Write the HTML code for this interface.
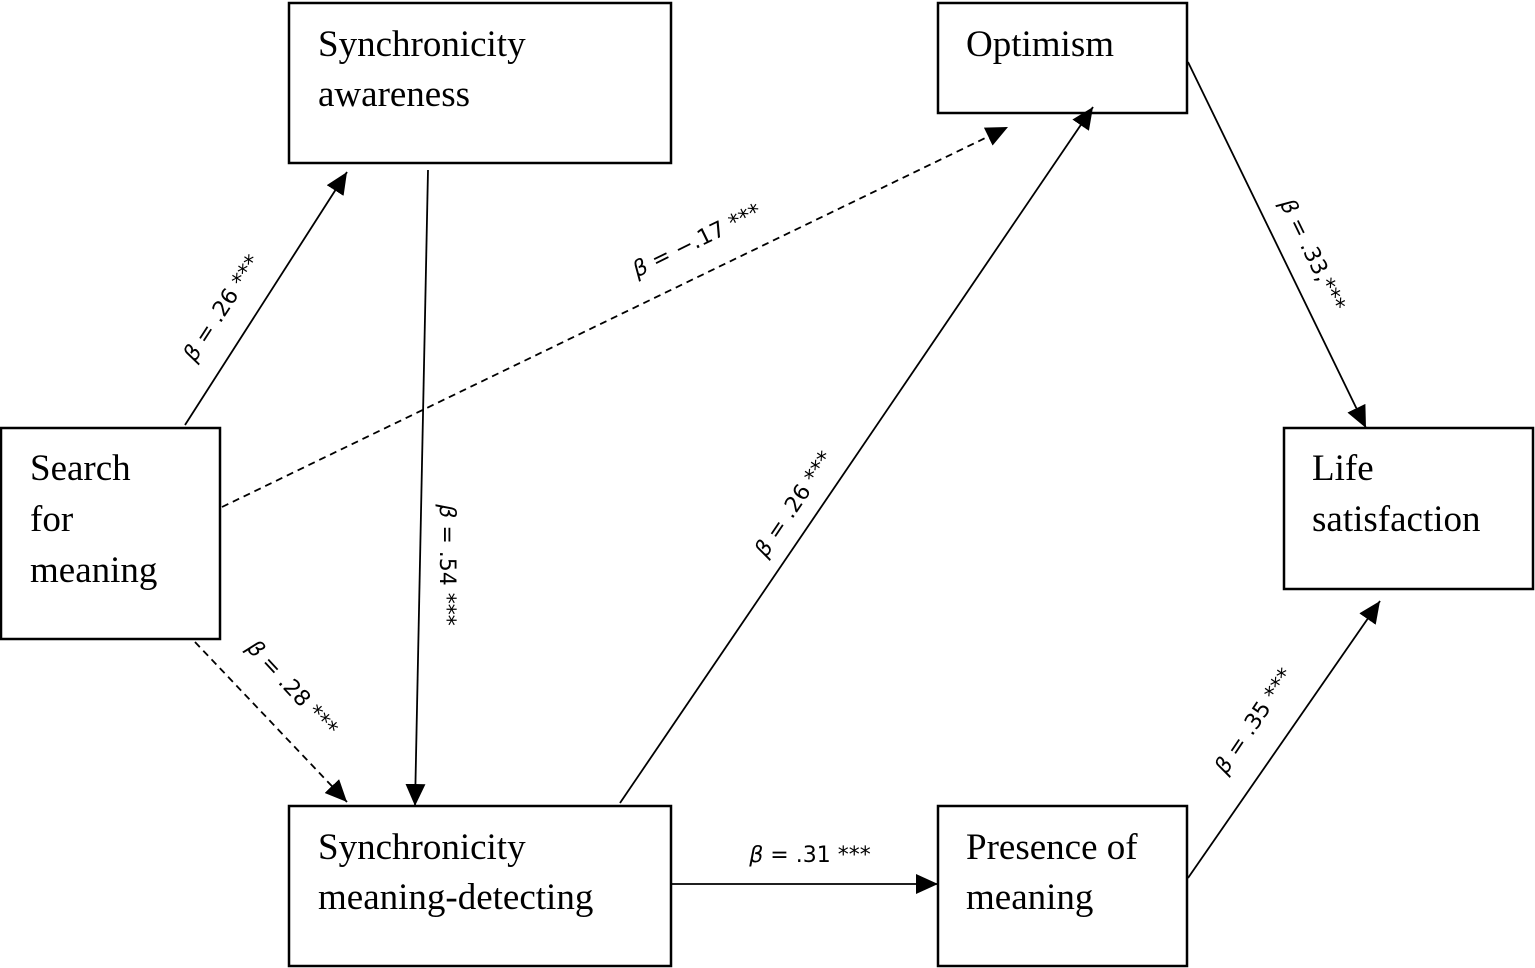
<!DOCTYPE html>
<html><head><meta charset="utf-8"><style>
html,body{margin:0;padding:0;background:#fff;}
svg{display:block}
.b{font-family:"Liberation Serif",serif;font-size:37px;fill:#000}
.l{font-family:"DejaVu Sans","Liberation Sans",sans-serif;font-size:22px;fill:#000}
</style></head><body>
<svg width="1535" height="968" viewBox="0 0 1535 968" xmlns="http://www.w3.org/2000/svg">
<defs><marker id="a" markerWidth="12" markerHeight="12" refX="11" refY="6" orient="auto" markerUnits="userSpaceOnUse" viewBox="0 0 12 12"><path d="M0,0 L12,6 L0,12 z" fill="#000" transform="scale(1)"/></marker>
<marker id="a2" markerWidth="24" markerHeight="20" refX="22" refY="10" orient="auto" markerUnits="userSpaceOnUse"><path d="M0,0 L22,10 L0,20 z" fill="#000"/></marker></defs>
<g fill="none" stroke="#000" stroke-width="2.5">
<rect x="289" y="3" width="382" height="160"/>
<rect x="938" y="3" width="249" height="110"/>
<rect x="1" y="428" width="219" height="211"/>
<rect x="1284" y="428" width="249" height="161"/>
<rect x="289" y="806" width="382" height="160"/>
<rect x="938" y="806" width="249" height="160"/>
</g>
<g stroke="#000" stroke-width="1.8" fill="none">
<line x1="185" y1="425" x2="347" y2="172" marker-end="url(#a2)"/>
<line x1="428" y1="170" x2="415" y2="806" marker-end="url(#a2)"/>
<line x1="222" y1="507" x2="1008" y2="127" stroke-dasharray="7,5" marker-end="url(#a2)"/>
<line x1="195" y1="642" x2="347" y2="802" stroke-dasharray="7,5" marker-end="url(#a2)"/>
<line x1="620" y1="803" x2="1093" y2="107" marker-end="url(#a2)"/>
<line x1="1188" y1="62" x2="1366" y2="428" marker-end="url(#a2)"/>
<line x1="672" y1="884" x2="938" y2="884" marker-end="url(#a2)"/>
<line x1="1188" y1="878" x2="1380" y2="601" marker-end="url(#a2)"/>
</g>
<text class="b" x="318" y="56">Synchronicity</text>
<text class="b" x="318" y="106">awareness</text>
<text class="b" x="966" y="56">Optimism</text>
<text class="b" x="30" y="480">Search</text>
<text class="b" x="30" y="531">for</text>
<text class="b" x="30" y="582">meaning</text>
<text class="b" x="1312" y="480">Life</text>
<text class="b" x="1312" y="531">satisfaction</text>
<text class="b" x="318" y="859">Synchronicity</text>
<text class="b" x="318" y="909">meaning-detecting</text>
<text class="b" x="966" y="859">Presence of</text>
<text class="b" x="966" y="909">meaning</text>
<g class="l" text-anchor="middle">
<text transform="translate(228,312) rotate(-57)"><tspan font-style="italic">β</tspan> = .26 ***</text>
<text transform="translate(700,247) rotate(-26)"><tspan font-style="italic">β</tspan> = −.17 ***</text>
<text transform="translate(440,565) rotate(90)"><tspan font-style="italic">β</tspan> = .54 ***</text>
<text transform="translate(287,693) rotate(47)"><tspan font-style="italic">β</tspan> = .28 ***</text>
<text transform="translate(800,508) rotate(-56)"><tspan font-style="italic">β</tspan> = .26 ***</text>
<text transform="translate(1306,258) rotate(64)"><tspan font-style="italic">β</tspan> = .33,***</text>
<text x="810" y="862"><tspan font-style="italic">β</tspan> = .31 ***</text>
<text transform="translate(1260,725) rotate(-56)"><tspan font-style="italic">β</tspan> = .35 ***</text>
</g>
</svg>
</body></html>
